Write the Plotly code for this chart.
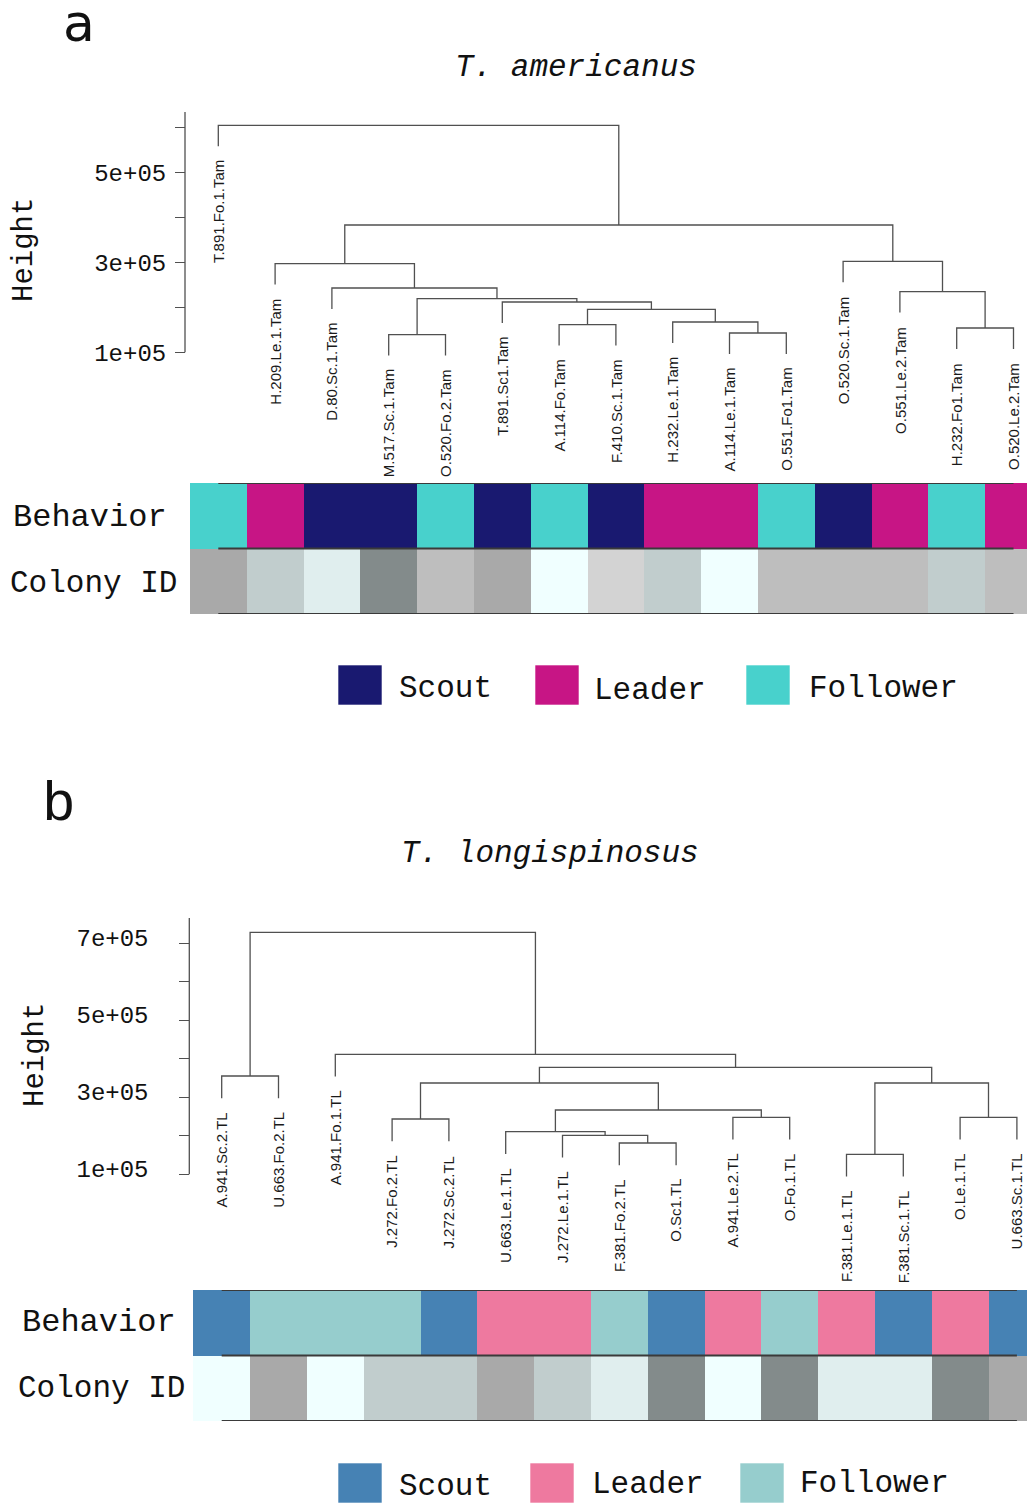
import plotly.graph_objects as go

W, H = 1035, 1504
OFF = 8  # the page places the figure 8 px from the top-left corner

# ---------------- DATA ----------------
# Panel a : T. americanus
leaves_a = ["T.891.Fo.1.Tam", "H.209.Le.1.Tam", "D.80.Sc.1.Tam", "M.517.Sc.1.Tam",
            "O.520.Fo.2.Tam", "T.891.Sc1.Tam", "A.114.Fo.Tam", "F.410.Sc.1.Tam",
            "H.232.Le.1.Tam", "A.114.Le.1.Tam", "O.551.Fo1.Tam", "O.520.Sc.1.Tam",
            "O.551.Le.2.Tam", "H.232.Fo1.Tam", "O.520.Le.2.Tam"]
behavior_a = ["Follower", "Leader", "Scout", "Scout", "Follower", "Scout", "Follower",
              "Scout", "Leader", "Leader", "Follower", "Scout", "Leader", "Follower", "Leader"]
colony_a = ["T.891", "H.209", "D.80", "M.517", "O.520", "T.891", "A.114", "F.410",
            "H.232", "A.114", "O.551", "O.520", "O.551", "H.232", "O.520"]
colony_colors_a = {"T.891": "#A9A9A9", "H.209": "#C1CDCD", "D.80": "#E0EEEE",
                   "M.517": "#838B8B", "O.520": "#BEBEBE", "A.114": "#F0FFFF",
                   "F.410": "#D3D3D3", "H.232": "#C1CDCD", "O.551": "#BEBEBE"}
behavior_colors_a = {"Scout": "#191970", "Leader": "#C71585", "Follower": "#48D1CC"}
# hclust-style merges: negative = leaf (1-based), positive = earlier merge (1-based)
merge_left_a = [-4, -10, -14, -7, -9, 4, -6, 1, -13, -3, -2, -12, 11, -1]
merge_right_a = [-5, -11, -15, -8, 2, 5, 6, 7, 3, 8, 10, 9, 12, 13]
merge_height_a = [1.393e5, 1.429e5, 1.54e5, 1.616e5, 1.673e5, 1.956e5, 2.118e5,
                  2.193e5, 2.349e5, 2.429e5, 2.971e5, 3.022e5, 3.829e5, 6.044e5]
tickvals_a = [1e5, 2e5, 3e5, 4e5, 5e5, 6e5]
ticktext_a = ["1e+05", "", "3e+05", "", "5e+05", ""]

# Panel b : T. longispinosus
leaves_b = ["A.941.Sc.2.TL", "U.663.Fo.2.TL", "A.941.Fo.1.TL", "J.272.Fo.2.TL",
            "J.272.Sc.2.TL", "U.663.Le.1.TL", "J.272.Le.1.TL", "F.381.Fo.2.TL",
            "O.Sc1.TL", "A.941.Le.2.TL", "O.Fo.1.TL", "F.381.Le.1.TL",
            "F.381.Sc.1.TL", "O.Le.1.TL", "U.663.Sc.1.TL"]
behavior_b = ["Scout", "Follower", "Follower", "Follower", "Scout", "Leader", "Leader",
              "Follower", "Scout", "Leader", "Follower", "Leader", "Scout", "Leader", "Scout"]
colony_b = ["A.941", "U.663", "A.941", "J.272", "J.272", "U.663", "J.272", "F.381",
            "O", "A.941", "O", "F.381", "F.381", "O", "U.663"]
colony_colors_b = {"A.941": "#F0FFFF", "U.663": "#A9A9A9", "J.272": "#C1CDCD",
                   "F.381": "#E0EEEE", "O": "#838B8B"}
behavior_colors_b = {"Scout": "#4682B4", "Leader": "#EE799F", "Follower": "#96CDCD"}
merge_left_b = [-12, -8, -7, -6, -4, -10, -14, 4, 5, 1, -1, 9, -3, 11]
merge_right_b = [-13, -9, 2, 3, -5, -11, -15, 6, 8, 7, -2, 10, 12, 13]
merge_height_b = [1.519e5, 1.813e5, 2.013e5, 2.106e5, 2.436e5, 2.481e5, 2.481e5,
                  2.670e5, 3.371e5, 3.371e5, 3.553e5, 3.779e5, 4.117e5, 7.286e5]
tickvals_b = [1e5, 2e5, 3e5, 4e5, 5e5, 6e5, 7e5]
ticktext_b = ["1e+05", "", "3e+05", "", "5e+05", "", "7e+05"]

legend_order = ["Scout", "Leader", "Follower"]

# ---------------- HELPERS ----------------
LINE = "#505050"
MONO = "Liberation Mono, Courier New, monospace"
SANS = "Liberation Sans, Arial, sans-serif"


def dendro(lefts, rights, heights, n):
    hang = 0.1 * (max(heights) - min(heights))
    pos, hgt = {}, {}
    xs, ys = [], []
    leaf_bottom = [0.0] * n
    for k, (l, r, h) in enumerate(zip(lefts, rights, heights), start=1):
        pts = []
        for c in (l, r):
            if c < 0:
                i = -c - 1
                leaf_bottom[i] = h - hang
                pts.append((i, h - hang))
            else:
                pts.append((pos[c], hgt[c]))
        (xl, yl), (xr, yr) = pts
        xs += [xl, xl, xr, xr, None]
        ys += [yl, h, h, yr, None]
        pos[k] = (xl + xr) / 2
        hgt[k] = h
    return xs, ys, leaf_bottom


def fy(py):
    return 1 - (py - OFF) / H


def fx(px):
    return (px - OFF) / W


fig = go.Figure()
annotations = []
shapes = []


def panel(sfx_x, sfx_y, sfx_y2, leaves, behavior, colony, ccol, bcol,
          lefts, rights, heights, leaf0_px, step_px):
    n = len(leaves)
    xs, ys, lb = dendro(lefts, rights, heights, n)
    fig.add_trace(go.Scatter(x=xs, y=ys, mode="lines", line=dict(color=LINE, width=1.3),
                             xaxis=sfx_x, yaxis=sfx_y, showlegend=False, hoverinfo="skip"))
    for i, name in enumerate(leaves):
        annotations.append(dict(x=i, y=lb[i], xref=sfx_x, yref=sfx_y, text=name,
                                textangle=-90, showarrow=False, xanchor="center",
                                yanchor="top", yshift=-12,
                                font=dict(family=SANS, size=15, color="#1a1a1a")))
    idx = list(range(n))
    fig.add_trace(go.Bar(x=idx, y=[1] * n, base=[1] * n, width=1,
                         marker=dict(color=[bcol[b] for b in behavior], line=dict(width=0)),
                         xaxis=sfx_x, yaxis=sfx_y2, showlegend=False, hoverinfo="skip"))
    fig.add_trace(go.Bar(x=idx, y=[1] * n, base=[0] * n, width=1,
                         marker=dict(color=[ccol[c] for c in colony], line=dict(width=0)),
                         xaxis=sfx_x, yaxis=sfx_y2, showlegend=False, hoverinfo="skip"))
    for yv in (0, 1, 2):
        shapes.append(dict(type="line", xref=sfx_x, yref=sfx_y2, x0=0, x1=n - 1,
                           y0=yv, y1=yv, line=dict(color="#3a3a3a", width=2)))
    x_lo = (OFF - leaf0_px) / step_px
    x_hi = (OFF + W - leaf0_px) / step_px
    return [x_lo, x_hi]


# panel geometry (screen pixels)
A_leaf0, A_step = 218.3, 56.8
A_t0_px, A_per = 352.3, 45.0          # pixel of 1e5 tick, px per 1e5
A_dom = (100, 480)
A_band = (483, 614)
B_leaf0, B_step = 221.7, 56.8
B_t0_px, B_per = 1174.3, 38.5
B_dom = (895, 1285)
B_band = (1290, 1421)


def val(px, t0, per):
    return 1e5 + (t0 - px) / per * 1e5


xr_a = panel("x", "y", "y2", leaves_a, behavior_a, colony_a, colony_colors_a,
             behavior_colors_a, merge_left_a, merge_right_a, merge_height_a, A_leaf0, A_step)
xr_b = panel("x3", "y3", "y4", leaves_b, behavior_b, colony_b, colony_colors_b,
             behavior_colors_b, merge_left_b, merge_right_b, merge_height_b, B_leaf0, B_step)

# y axis lines
shapes.append(dict(type="line", xref="paper", yref="y", x0=fx(185), x1=fx(185),
                   y0=1e5, y1=val(112, A_t0_px, A_per), line=dict(color=LINE, width=1.3)))
shapes.append(dict(type="line", xref="paper", yref="y3", x0=fx(189.3), x1=fx(189.3),
                   y0=1e5, y1=val(918, B_t0_px, B_per), line=dict(color=LINE, width=1.3)))


# legends
def legend(y_top, sq_x, txt_x, colors, txt_dy):
    for name, sx, tx, dy in zip(legend_order, sq_x, txt_x, txt_dy):
        shapes.append(dict(type="rect", xref="paper", yref="paper",
                           x0=fx(sx), x1=fx(sx + 44), y0=fy(y_top + 40), y1=fy(y_top),
                           fillcolor=colors[name], line=dict(color="rgba(255,255,255,0.6)", width=1)))
        annotations.append(dict(x=fx(tx), y=fy(y_top + 20 + dy), xref="paper", yref="paper",
                                text=name, showarrow=False, xanchor="left", yanchor="middle",
                                font=dict(family=MONO, size=31, color="#111")))


legend(665, [338, 535, 746], [397, 592, 807], behavior_colors_a, [3, 5, 3])
legend(1463, [338, 530, 740], [397, 590, 798], behavior_colors_b, [3, 1, 0])

texts = [
    ("<i>T. americanus</i>", 576, 67, MONO, 31, 0),
    ("Height", 25, 250, MONO, 29, -90),
    ("Behavior", 90, 517, MONO, 32, 0),
    ("Colony ID", 93, 583, MONO, 31, 0),
    ("b", 59, 805, MONO, 56, 0),
    ("<i>T. longispinosus</i>", 550, 853, MONO, 31, 0),
    ("Height", 35, 1055, MONO, 29, -90),
    ("Behavior", 99, 1322, MONO, 32, 0),
    ("Colony ID", 101, 1388, MONO, 31, 0),
]
for t, x, y, fam, sz, ang in texts:
    annotations.append(dict(x=fx(x), y=fy(y), xref="paper", yref="paper", text=t,
                            showarrow=False, xanchor="center", yanchor="middle",
                            textangle=ang, font=dict(family=fam, size=sz, color="#111")))

# panel letter "a" sits right against the top edge: give it a compact box
annotations.append(dict(x=fx(79), y=1, xref="paper", yref="paper", text="a",
                        showarrow=False, xanchor="center", yanchor="top",
                        height=44, valign="bottom", borderpad=0,
                        font=dict(family="DejaVu Sans, sans-serif", size=52, color="#111")))

yax_common = dict(ticks="outside", ticklen=10, tickwidth=1.3, tickcolor=LINE,
                  showgrid=False, zeroline=False, showline=False,
                  tickfont=dict(family=MONO, size=24, color="#111"), anchor="free")

fig.update_layout(
    width=W, height=H, margin=dict(l=0, r=0, t=0, b=0),
    paper_bgcolor="white", plot_bgcolor="rgba(0,0,0,0)",
    barmode="overlay", bargap=0, showlegend=False,
    xaxis=dict(domain=[0, 1], range=xr_a, visible=False, anchor="y2"),
    yaxis=dict(domain=[fy(A_dom[1]), fy(A_dom[0])],
               range=[val(A_dom[1], A_t0_px, A_per), val(A_dom[0], A_t0_px, A_per)],
               tickvals=tickvals_a, ticktext=ticktext_a, position=fx(185),
               ticklabelstandoff=4, **yax_common),
    yaxis2=dict(domain=[fy(A_band[1]), fy(A_band[0])], range=[0, 2], visible=False, anchor="x"),
    xaxis3=dict(domain=[0, 1], range=xr_b, visible=False, anchor="y4"),
    yaxis3=dict(domain=[fy(B_dom[1]), fy(B_dom[0])],
                range=[val(B_dom[1], B_t0_px, B_per), val(B_dom[0], B_t0_px, B_per)],
                tickvals=tickvals_b, ticktext=ticktext_b, position=fx(189.3),
                ticklabelstandoff=26, ticklabelshift=-6, **yax_common),
    yaxis4=dict(domain=[fy(B_band[1]), fy(B_band[0])], range=[0, 2], visible=False, anchor="x3"),
    annotations=annotations, shapes=shapes,
)

fig.write_html("out.html")
